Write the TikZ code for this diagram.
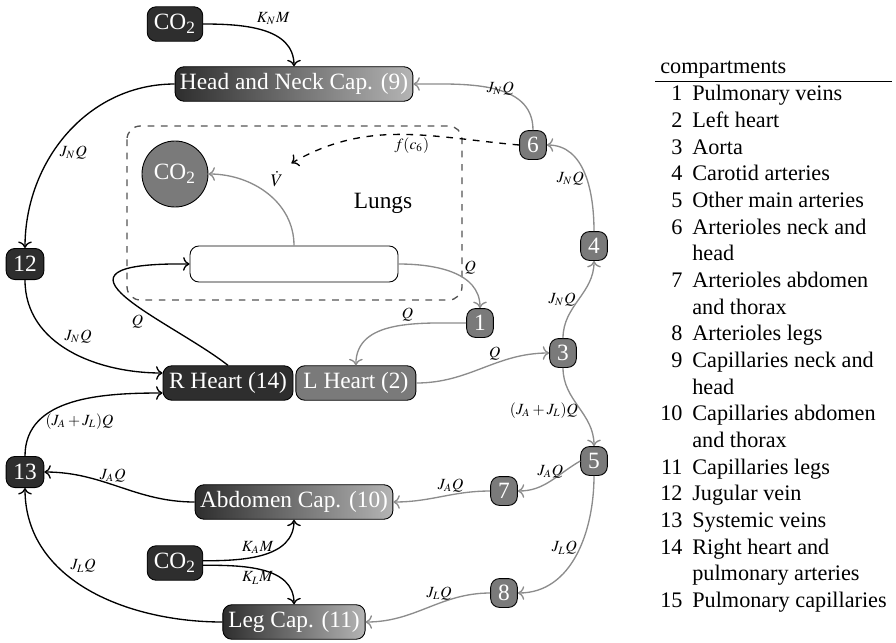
\documentclass[tikz,border=0pt]{standalone}
\usepackage{mathptmx}
\usepackage{fontspec}
\setmainfont{Liberation Serif}
\usetikzlibrary{arrows.meta, positioning}
\definecolor{venDark}{HTML}{2E2E2E}
\definecolor{artGray}{HTML}{7A7A7A}
\definecolor{capLight}{HTML}{B4B4B4}
\definecolor{lineGray}{HTML}{8C8C8C}
\definecolor{boxDash}{HTML}{555555}
\newcommand{\cmpfont}{\fontsize{10.5}{12}\selectfont}
\newcommand{\legfont}{\fontsize{10}{12}\selectfont}
\tikzset{
  arrowK/.style={->, black, semithick},
  arrowG/.style={->, color=lineGray, semithick},
  arrowD/.style={->, black, semithick, dashed},
  lbl/.style={font=\scriptsize, text=black, inner sep=1pt},
  darkbox/.style={rectangle, rounded corners=4pt, draw=black, fill=venDark,
                  text=white, font=\cmpfont, inner sep=2pt, minimum height=15.5pt},
  capbox/.style={darkbox, left color=venDark, right color=capLight},
  numbox/.style={darkbox, fill=artGray, minimum width=12pt, minimum height=13pt,
                 inner sep=1pt},
  vennum/.style={darkbox, minimum width=17pt, minimum height=14pt, inner sep=1pt},
  lungbox/.style={draw=boxDash, dashed, semithick, rounded corners=6pt},
}
\begin{document}
\begin{tikzpicture}[x=0.45pt, y=-0.45pt]
  \useasboundingbox (0,0) rectangle (896,642);
  % lungs
  \draw[lungbox] (127,126) rectangle (462,300);
  \node[font=\cmpfont] (lungs) at (383,203) {Lungs};
  \node[circle, draw=black, fill=artGray, text=white, font=\cmpfont,
        minimum size=29.7pt, inner sep=0pt] (co2l) at (175,174) {CO\textsubscript{2}};
  \node[rectangle, rounded corners=4pt, draw=black, fill=white,
        minimum width=93.6pt, minimum height=16.2pt] (pcap) at (294,264) {};
  \node[font=\footnotesize, inner sep=1pt] (vdot) at (277,179) {$\dot V$};

  % capillary beds and sources
  \node[darkbox, minimum width=25pt] (co2n) at (175,24) {CO\textsubscript{2}};
  \node[capbox, minimum width=107pt] (head) at (294,84) {Head and Neck Cap. (9)};
  \node[capbox, minimum width=89pt] (abd) at (294,502) {Abdomen Cap. (10)};
  \node[capbox, minimum width=64pt] (leg) at (294,622) {Leg Cap. (11)};
  \node[darkbox, minimum width=25pt] (co2b) at (175,563) {CO\textsubscript{2}};

  % heart
  \node[darkbox, minimum width=58.5pt] (rh) at (228,383) {R Heart (14)};
  \node[darkbox, fill=artGray, minimum width=54pt, right=0.9pt of rh] (lh) {L Heart (2)};

  % veins and arteries
  \node[vennum] (n12) at (25,264) {12};
  \node[vennum] (n13) at (25,472) {13};
  \node[numbox] (n1) at (480,323) {1};
  \node[numbox] (n3) at (563,353) {3};
  \node[numbox] (n4) at (594,246) {4};
  \node[numbox] (n5) at (594,461) {5};
  \node[numbox] (n6) at (533,145) {6};
  \node[numbox] (n7) at (504,491) {7};
  \node[numbox] (n8) at (504,593) {8};

  % venous side
  \draw[arrowK] (co2n.east) to[out=0, in=90]
    node[lbl, pos=0.6, above=3pt] {$K_N M$} (head.north);
  \draw[arrowK] ([yshift=1pt]co2b.east) to[out=0, in=-90]
    node[lbl, pos=0.45, above] {$K_A M$} (abd.south);
  \draw[arrowK] ([yshift=-1pt]co2b.east) to[out=0, in=90]
    node[lbl, pos=0.45, below] {$K_L M$} (leg.north);
  \draw[arrowK] (head.west) to[out=180, in=90]
    node[lbl, pos=0.6, right=2pt] {$J_N Q$} (n12.north);
  \draw[arrowK] (n12.south) to[out=-90, in=180]
    node[lbl, pos=0.45, above right] {$J_N Q$} ([yshift=4.5pt]rh.west);
  \draw[arrowK] (n13.north) to[out=90, in=180]
    node[lbl, pos=0.25, right=2pt] {$(J_A+J_L)Q$} ([yshift=-4.5pt]rh.west);
  \draw[arrowK] (abd.west) to[out=180, in=0]
    node[lbl, pos=0.55, above] {$J_A Q$} (n13.east);
  \draw[arrowK] (leg.west) to[out=180, in=-90]
    node[lbl, pos=0.6, above right] {$J_L Q$} (n13.south);
  \draw[arrowK] (rh.north) .. controls (170,320) and (25,262) ..
    node[lbl, pos=0.38, below left] {$Q$} (pcap.west);

  % arterial side
  \draw[arrowG] (pcap.north) to[out=90, in=0] (co2l.east);
  \draw[arrowG] (pcap.east) to[out=0, in=90]
    node[lbl, pos=0.6, above right] {$Q$} (n1.north);
  \draw[arrowG] (n1.west) to[out=180, in=90]
    node[lbl, pos=0.4, above] {$Q$} (lh.north);
  \draw[arrowG] (lh.east) to[out=0, in=180]
    node[lbl, pos=0.6, above] {$Q$} (n3.west);
  \draw[arrowG] (n3.north) to[out=90, in=-90]
    node[lbl, pos=0.5, left] {$J_N Q$} (n4.south);
  \draw[arrowG] (n4.north) to[out=90, in=0]
    node[lbl, pos=0.45, left] {$J_N Q$} (n6.east);
  \draw[arrowG] (n6.north) to[out=90, in=0]
    node[lbl, pos=0.3, above left] {$J_N Q$} (head.east);
  \draw[arrowG] (n3.south) to[out=-90, in=90]
    node[lbl, pos=0.55, left] {$(J_A+J_L)Q$} (n5.north);
  \draw[arrowG] (n5.west) to[out=210, in=0]
    node[lbl, pos=0.5, above] {$J_A Q$} (n7.east);
  \draw[arrowG] (n5.south) to[out=-90, in=0]
    node[lbl, pos=0.45, left] {$J_L Q$} (n8.east);
  \draw[arrowG] (n7.west) to[out=180, in=0]
    node[lbl, pos=0.4, above] {$J_A Q$} (abd.east);
  \draw[arrowG] (n8.west) to[out=180, in=0]
    node[lbl, pos=0.4, above] {$J_L Q$} (leg.east);

  % ventilation control
  \draw[arrowD] (n6.west) to[out=175, in=30]
    node[lbl, pos=0.45, below] {$f(c_6)$} ([xshift=2.5pt, yshift=2.5pt]vdot.north east);

  % legend
  \node[anchor=north west, inner sep=0pt, font=\legfont] (legend) at (655,54) {%
    \setlength\tabcolsep{2.2pt}%
    \begin{tabular}{rl}
      \multicolumn{2}{l}{compartments}\\ \hline
      1 & Pulmonary veins\\
      2 & Left heart\\
      3 & Aorta\\
      4 & Carotid arteries\\
      5 & Other main arteries\\
      6 & Arterioles neck and\\
        & head\\
      7 & Arterioles abdomen\\
        & and thorax\\
      8 & Arterioles legs\\
      9 & Capillaries neck and\\
        & head\\
      10 & Capillaries abdomen\\
         & and thorax\\
      11 & Capillaries legs\\
      12 & Jugular vein\\
      13 & Systemic veins\\
      14 & Right heart and\\
         & pulmonary arteries\\
      15 & Pulmonary capillaries
    \end{tabular}};
\end{tikzpicture}
\end{document}
